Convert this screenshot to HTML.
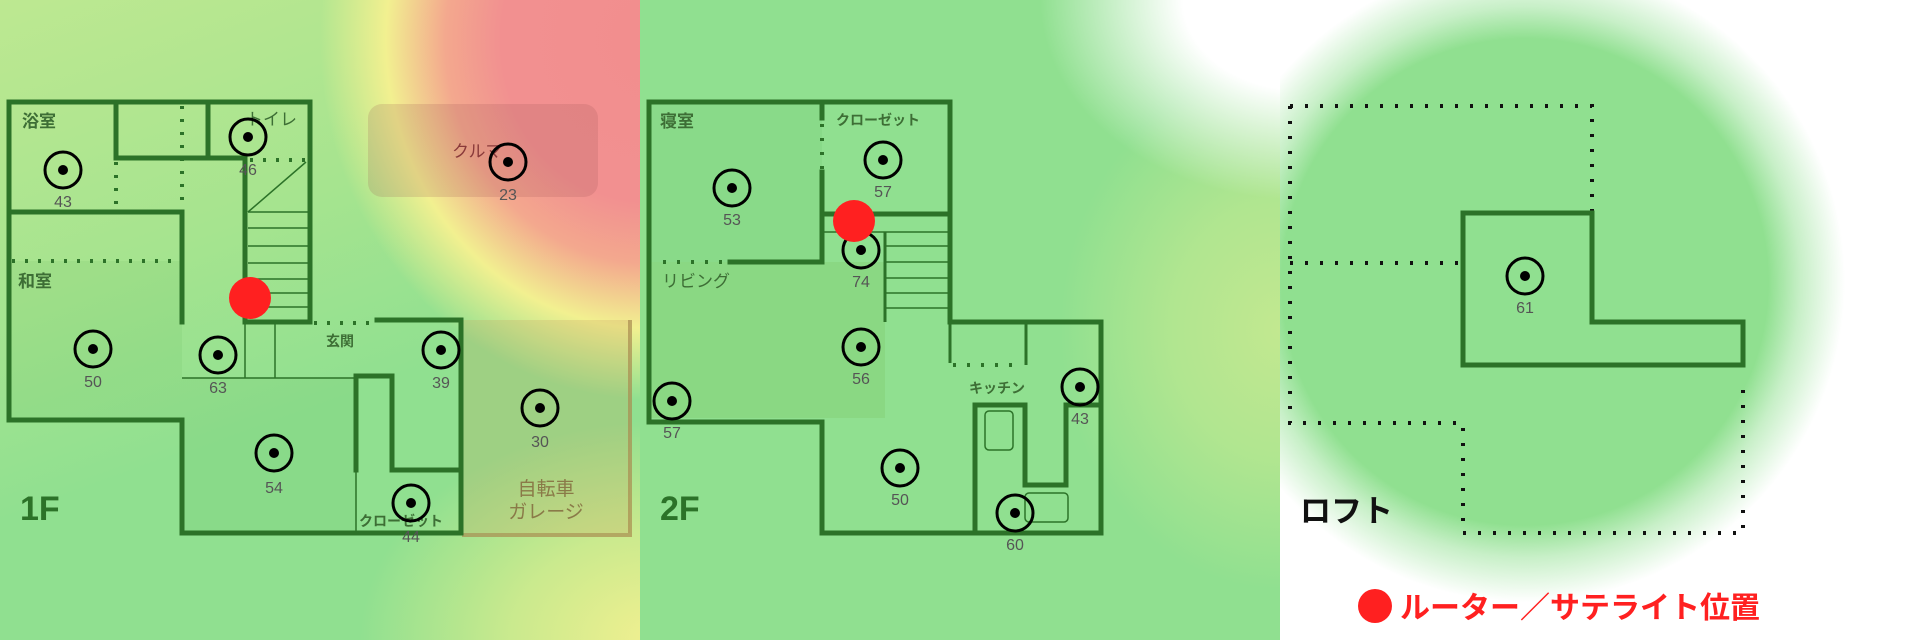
<!DOCTYPE html>
<html><head><meta charset="utf-8"><style>
html,body{margin:0;padding:0;width:1920px;height:640px;overflow:hidden;background:#fff}
#p1{position:absolute;left:0;top:0;width:640px;height:640px;
background:
radial-gradient(ellipse 330px 360px at 650px 40px,#f28e8e 0,#f29090 45%,#f3a88e 62%,#f2f090 80%,rgba(240,240,140,0) 100%),
radial-gradient(ellipse 300px 220px at 660px 640px,#f2f090 0,rgba(240,240,140,0.6) 50%,rgba(240,240,140,0) 100%),
linear-gradient(160deg,#bde891 0,#a6e48f 35%,#90e090 60%,#90e090 100%);}
#p2{position:absolute;left:640px;top:0;width:640px;height:640px;
background:
radial-gradient(ellipse 260px 200px at 660px 0px,#fff 0,#fff 45%,rgba(255,255,255,0) 100%),
radial-gradient(ellipse 220px 260px at 640px 330px,#c2e890 0,rgba(190,232,144,0.7) 50%,rgba(190,232,144,0) 100%),
#90e090;}
#p3{position:absolute;left:1280px;top:0;width:640px;height:640px;background:
radial-gradient(circle 320px at 245px 282px,#90e090 0,#90e090 76%,rgba(144,224,144,0.5) 86%,rgba(255,255,255,0) 100%),#fff;}
svg{position:absolute;left:0;top:0}
text{font-family:"Liberation Sans","Noto Sans CJK JP",sans-serif}
</style></head><body>
<div id="p1"></div><div id="p2"></div><div id="p3"></div>
<svg width="1920" height="640" viewBox="0 0 1920 640">
<defs>
<g id="s"><circle r="18" fill="none" stroke="#000" stroke-width="3"/><circle r="5" fill="#000"/></g>
</defs>
<!-- ============ 1F ============ -->
<rect x="368" y="104" width="230" height="93" rx="14" fill="rgba(150,80,80,0.18)"/>
<rect x="462" y="320" width="168" height="213" fill="rgba(200,160,90,0.25)"/>
<path d="M630 320 V535 H462" fill="none" stroke="rgba(170,140,80,0.7)" stroke-width="4"/>
<rect x="9" y="261" width="173" height="159" fill="rgba(60,150,60,0.08)"/>
<rect x="182" y="378" width="174" height="155" fill="rgba(60,150,60,0.08)"/>
<g fill="none" stroke="#2c7228" stroke-width="5" stroke-linecap="square">
<path d="M9 102 H310 V322"/>
<path d="M9 102 V420 H182 V533 H461 V320 H377"/>
<path d="M116 102 V158 H208 M208 102 V158 H245"/>
<path d="M9 212 H182 V322"/>
<path d="M245 160 V322 H310"/>
<path d="M356 470 V376 H392 V470 H461"/>
</g>
<g fill="none" stroke="#2c7228" stroke-width="4" stroke-dasharray="3 10">
<path d="M182 106 V200"/><path d="M116 162 V212"/><path d="M12 261 H180"/>
<path d="M250 160 H306"/><path d="M314 323 H377"/>
</g>
<g fill="none" stroke="#2c7228" stroke-width="1.5">
<path d="M248 212 L306 162"/>
<path d="M248 212H308M248 228H308M248 246H308M248 263H308M248 279H308M248 293H308M248 307H308"/>
<path d="M275 322 V378 M182 378 H356 M245 322 V378 M356 470 V533"/>
</g>
<g fill="#444" font-size="16">
<text x="22" y="127" font-size="17" font-weight="bold" fill="#3d6e35">浴室</text>
<text x="246" y="125" font-size="17" fill="#3d6e35">トイレ</text>
<text x="452" y="157" font-size="17" fill="#8a3a3a">クルマ</text>
<text x="18" y="287" font-size="17" font-weight="bold" fill="#3d6e35">和室</text>
<text x="326" y="346" font-size="14" font-weight="bold" fill="#3d6e35">玄関</text>
<text x="359" y="526" font-size="14" font-weight="bold" fill="#3d6e35">クローゼット</text>
<text x="546" y="495" font-size="19" text-anchor="middle" fill="#8a7a48">自転車</text>
<text x="546" y="518" font-size="19" text-anchor="middle" fill="#8a7a48">ガレージ</text>
<text x="20" y="520" font-size="34" font-weight="bold" fill="#2c7228">1F</text>
</g>
<g>
<use href="#s" x="63" y="170"/><use href="#s" x="248" y="137"/><use href="#s" x="508" y="162"/>
<use href="#s" x="93" y="349"/><use href="#s" x="218" y="355"/><use href="#s" x="441" y="350"/>
<use href="#s" x="540" y="408"/><use href="#s" x="274" y="453"/><use href="#s" x="411" y="503"/>
</g>
<g fill="#555" font-size="16" text-anchor="middle">
<text x="63" y="207">43</text><text x="248" y="175">46</text><text x="508" y="200">23</text>
<text x="93" y="387">50</text><text x="218" y="393">63</text><text x="441" y="388">39</text>
<text x="540" y="447">30</text><text x="274" y="493">54</text><text x="411" y="542">44</text>
</g>
<circle cx="250" cy="298" r="21" fill="#ff2020"/>
<!-- ============ 2F ============ -->
<rect x="649" y="102" width="173" height="160" fill="rgba(60,150,60,0.08)"/>
<rect x="649" y="262" width="236" height="156" fill="rgba(130,200,110,0.35)"/>
<g fill="none" stroke="#2c7228" stroke-width="5" stroke-linecap="square">
<path d="M649 102 H950 V322 H1101 V533 H822 V422 H649 Z"/>
<path d="M822 102 V118 M822 172 V262 H730"/>
<path d="M822 214 H950"/>
<path d="M975 533 V405 H1025 V485 H1066 V405 H1101"/>
</g>
<g fill="none" stroke="#2c7228" stroke-width="3">
<path d="M885 232 V322"/><path d="M950 322 V363 M1026 322 V365"/>
</g>
<g fill="none" stroke="#2c7228" stroke-width="4" stroke-dasharray="3 11">
<path d="M663 262 H730"/><path d="M953 365 H1020"/><path d="M822 124 V170"/>
</g>
<g fill="none" stroke="#2c7228" stroke-width="1.5">
<path d="M822 232H950M885 246H950M885 262H950M885 278H950M885 293H950M885 308H950"/>
<rect x="985" y="411" width="28" height="39" rx="4"/>
<rect x="1025" y="493" width="43" height="29" rx="4"/>
</g>
<text x="660" y="127" font-size="17" font-weight="bold" fill="#3d6e35">寝室</text>
<text x="836" y="125" font-size="14" font-weight="bold" fill="#3d6e35">クローゼット</text>
<text x="662" y="287" font-size="17" fill="#3d6e35">リビング</text>
<text x="969" y="393" font-size="14" font-weight="bold" fill="#3d6e35">キッチン</text>
<text x="660" y="520" font-size="34" font-weight="bold" fill="#2c7228">2F</text>
<g>
<use href="#s" x="732" y="188"/><use href="#s" x="883" y="160"/><use href="#s" x="861" y="250"/>
<use href="#s" x="861" y="347"/><use href="#s" x="672" y="401"/><use href="#s" x="900" y="468"/>
<use href="#s" x="1080" y="387"/><use href="#s" x="1015" y="513"/>
</g>
<g fill="#555" font-size="16" text-anchor="middle">
<text x="732" y="225">53</text><text x="883" y="197">57</text><text x="861" y="287">74</text>
<text x="861" y="384">56</text><text x="672" y="438">57</text><text x="900" y="505">50</text>
<text x="1080" y="424">43</text><text x="1015" y="550">60</text>
</g>
<circle cx="854" cy="221" r="21" fill="#ff2020"/>
<!-- ============ Loft ============ -->
<g fill="none" stroke="#111" stroke-width="4" stroke-dasharray="3 12">
<path d="M1290 106 H1592 V212"/>
<path d="M1290 106 V423 H1463 V533 H1743 V378"/>
<path d="M1290 263 H1463"/>
</g>
<path d="M1463 213 H1592 V322 H1743 V365 H1463 Z" fill="none" stroke="#2c7228" stroke-width="5"/>
<use href="#s" x="1525" y="276"/>
<text x="1525" y="313" font-size="16" fill="#555" text-anchor="middle">61</text>
<text x="1300" y="522" font-size="31" font-weight="bold" fill="#111">ロフト</text>
<circle cx="1375" cy="606" r="17" fill="#ff2020"/>
<text x="1400" y="618" font-size="30" font-weight="bold" fill="#ff2020">ルーター／サテライト位置</text>
</svg>
</body></html>
